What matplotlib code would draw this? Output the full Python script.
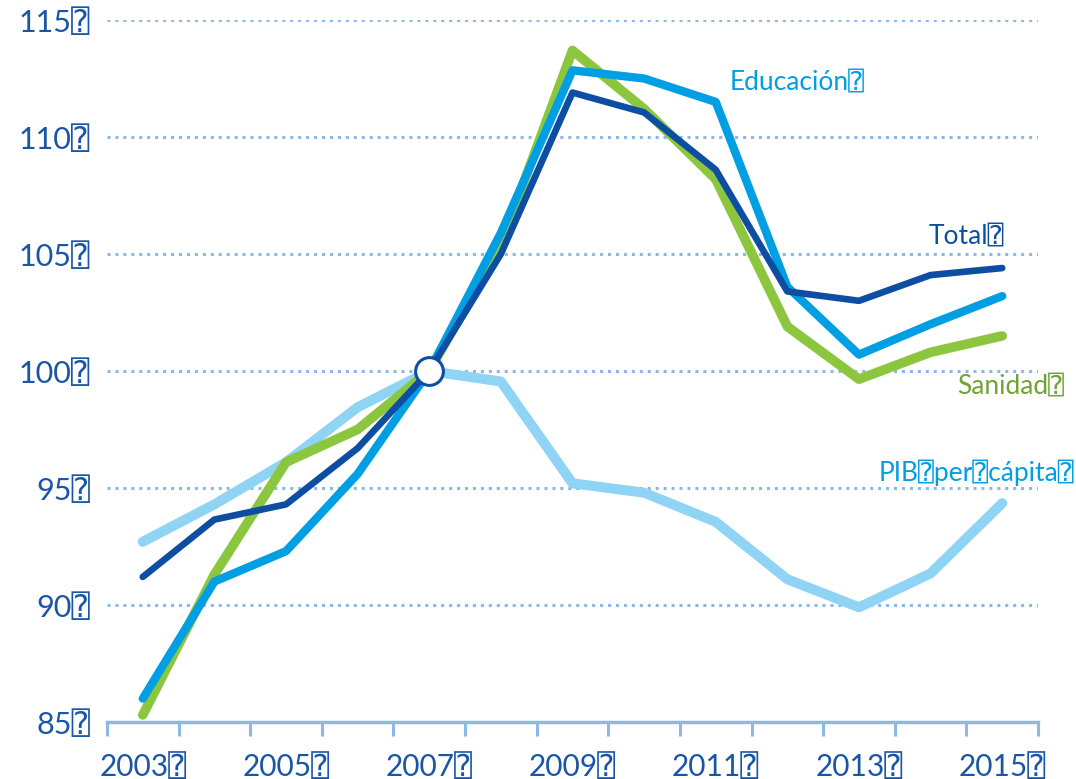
import numpy as np
import matplotlib
matplotlib.use("Agg")
import matplotlib.pyplot as plt

plt.rcParams['font.family'] = ['Lato', 'DejaVu Sans', 'DejaVu Sans Mono', 'Noto Sans',
                               'Liberation Sans', 'Noto Sans CJK JP']

BOX = "\u2370"

# Datos (índice 2007 = 100)
years = list(range(2003, 2016))
total = [91.2, 93.65, 94.3, 96.7, 100.0, 105.0, 111.9, 111.05, 108.6, 103.4, 103.0, 104.1, 104.4]
educacion = [86.0, 91.0, 92.3, 95.6, 100.0, 105.9, 112.85, 112.5, 111.5, 103.6, 100.7, 102.0, 103.2]
sanidad = [85.3, 91.3, 96.1, 97.5, 100.0, 105.4, 113.7, 111.2, 108.2, 101.9, 99.65, 100.8, 101.5]
pib = [92.7, 94.3, 96.1, 98.45, 100.0, 99.55, 95.2, 94.8, 93.55, 91.1, 89.9, 91.35, 94.35]
y_ticks = [85, 90, 95, 100, 105, 110, 115]

c_total = '#0d4ea2'
c_edu = '#009fe3'
c_san = '#8cc63e'
c_pib = '#8fd4f5'
c_grid = '#8ab9e8'
c_text = '#1a56a8'

x = np.arange(len(years))

fig = plt.figure(figsize=(10.76, 7.79), dpi=100)
ax = fig.add_axes([0.0994, 0.0732, 0.8653, 0.9011])

for yv in y_ticks[1:]:
    ax.axhline(yv, color=c_grid, lw=2.2, linestyle=(0, (1, 1.6)), zorder=1)

ax.plot(x, pib, color=c_pib, lw=7.2, solid_capstyle='round', solid_joinstyle='round', zorder=2, clip_on=False)
ax.plot(x, sanidad, color=c_san, lw=6.9, solid_capstyle='round', solid_joinstyle='round', zorder=3, clip_on=False)
ax.plot(x, educacion, color=c_edu, lw=6.0, solid_capstyle='round', solid_joinstyle='round', zorder=4, clip_on=False)
ax.plot(x, total, color=c_total, lw=4.8, solid_capstyle='round', solid_joinstyle='round', zorder=5, clip_on=False)

# punto base 2007
i07 = years.index(2007)
ax.plot(x[i07], total[i07], 'o', ms=20, mfc='white', mec=c_total, mew=2.2, zorder=6, clip_on=False)

# etiquetas de series
ax.text(8.2, 112.35, 'Educación' + BOX, color=c_edu, fontsize=19, ha='left', va='center')
ax.text(12.02, 105.75, 'Total' + BOX, color=c_total, fontsize=19, ha='right', va='center')
ax.text(11.37, 99.35, 'Sanidad' + BOX, color='#6fa332', fontsize=19, ha='left', va='center', clip_on=False)
ax.text(10.27, 95.65, 'PIB' + BOX + 'per' + BOX + 'cápita' + BOX, color=c_edu, fontsize=19, ha='left', va='center', clip_on=False)

ax.set_xlim(-0.5, len(years) - 0.5)
ax.set_ylim(85, 115)

ax.set_xticks(x[::2])
ax.set_xticklabels([f'{y}{BOX}' for y in years[::2]])
ax.set_xticks(np.arange(-0.5, len(years)), minor=True)
ax.tick_params(axis='x', which='major', length=0, pad=22, labelsize=21.5, labelcolor=c_text)
ax.tick_params(axis='x', which='minor', length=10, width=2.2, color=c_grid, direction='out')

ax.set_yticks(y_ticks)
ax.set_yticklabels([f'{v}{BOX}' for v in y_ticks])
ax.tick_params(axis='y', length=0, pad=12, labelsize=22, labelcolor=c_text)

for side in ['left', 'right', 'top']:
    ax.spines[side].set_visible(False)
ax.spines['bottom'].set_color(c_grid)
ax.spines['bottom'].set_linewidth(2.5)

fig.savefig('out.png', dpi=100)
